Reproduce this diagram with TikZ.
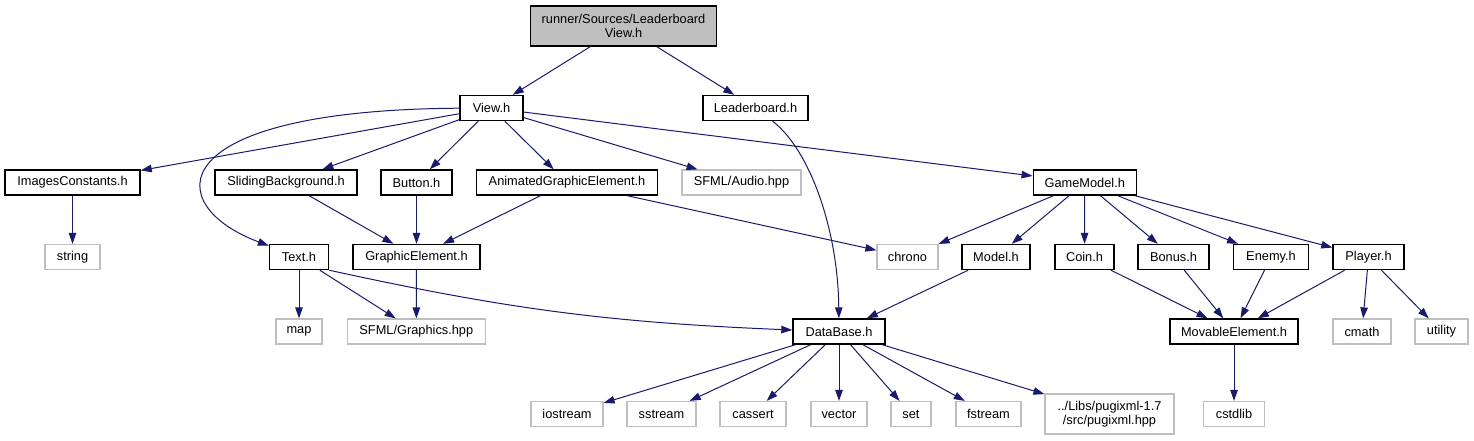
\documentclass[tikz,border=0pt]{standalone}
\usepackage{fontspec}
\setmainfont{Liberation Sans}
\usepackage{xcolor}
\usepackage{tikz}
\usetikzlibrary{arrows.meta}
\definecolor{depNavy}{RGB}{25,25,112}
\definecolor{sysGray}{RGB}{191,191,191}
\definecolor{rootGray}{RGB}{191,191,191}

\begin{document}
\begin{tikzpicture}[x=1pt,y=-1pt,
  incbox/.style={draw=black, line width=1.4pt, inner sep=0pt, minimum height=25pt,
    font=\fontsize{12.8}{13.5}\selectfont, align=center},
  sysbox/.style={incbox, draw=sysGray, line width=1.2pt},
  dep/.style={depNavy, line width=1pt, -{Triangle[length=11pt,width=7.5pt]}}]

\useasboundingbox (0,0) rectangle (1474,440);

\node[incbox, fill=rootGray, minimum width=186pt, minimum height=40pt] (root) at (623.5,26) {runner/Sources/Leaderboard\\View.h};

\node[incbox, minimum width=63pt] (view) at (491.5,108) {View.h};
\node[incbox, minimum width=105pt] (leaderboard) at (755.5,108) {Leaderboard.h};

\node[incbox, minimum width=135pt] (images) at (72.5,182.5) {ImagesConstants.h};
\node[incbox, minimum width=142pt] (sliding) at (286,182.5) {SlidingBackground.h};
\node[incbox, minimum width=71pt] (button) at (416.5,182.5) {Button.h};
\node[incbox, minimum width=181pt] (animated) at (567,182.5) {AnimatedGraphicElement.h};
\node[sysbox, minimum width=119pt] (audio) at (741.5,182.5) {SFML/Audio.hpp};
\node[incbox, minimum width=103pt] (gamemodel) at (1084.75,182.5) {GameModel.h};

\node[sysbox, minimum width=55pt] (string) at (72.5,257) {string};
\node[incbox, minimum width=59pt] (text) at (299,257) {Text.h};
\node[incbox, minimum width=127pt] (graphic) at (416.5,257) {GraphicElement.h};
\node[sysbox, minimum width=61pt] (chrono) at (907.5,257) {chrono};
\node[incbox, minimum width=68pt] (model) at (996,257) {Model.h};
\node[incbox, minimum width=59pt] (coin) at (1084.5,257) {Coin.h};
\node[incbox, minimum width=71pt] (bonus) at (1173.5,257) {Bonus.h};
\node[incbox, minimum width=75pt] (enemy) at (1271,257) {Enemy.h};
\node[incbox, minimum width=71pt] (player) at (1368.5,257) {Player.h};

\node[sysbox, minimum width=46pt] (map) at (299,331.5) {map};
\node[sysbox, minimum width=138pt] (graphics) at (416.3,331.5) {SFML/Graphics.hpp};
\node[incbox, minimum width=92pt] (database) at (839,331.5) {DataBase.h};
\node[incbox, minimum width=128pt] (movable) at (1234,331.5) {MovableElement.h};
\node[sysbox, minimum width=58pt] (cmath) at (1362,331.5) {cmath};
\node[sysbox, minimum width=53pt] (utility) at (1441.5,331.5) {utility};

\node[sysbox, minimum width=72pt] (iostream) at (567,414) {iostream};
\node[sysbox, minimum width=69pt] (sstream) at (661.5,414) {sstream};
\node[sysbox, minimum width=66pt] (cassert) at (753,414) {cassert};
\node[sysbox, minimum width=56pt] (vector) at (839,414) {vector};
\node[sysbox, minimum width=40pt] (set) at (911,414) {set};
\node[sysbox, minimum width=65pt] (fstream) at (988.5,414) {fstream};
\node[sysbox, minimum width=129pt, minimum height=40pt] (pugixml) at (1109.5,414) {../Libs/pugixml-1.7\\/src/pugixml.hpp};
\node[sysbox, minimum width=61pt] (cstdlib) at (1234,414) {cstdlib};

\foreach \a/\b in {root/view,root/leaderboard,view/images,view/sliding,view/button,view/animated,view/audio,view/gamemodel,
  images/string,sliding/graphic,button/graphic,animated/graphic,animated/chrono,text/map,text/graphics,graphic/graphics,
  gamemodel/chrono,gamemodel/model,gamemodel/coin,gamemodel/bonus,gamemodel/enemy,gamemodel/player,model/database,
  coin/movable,bonus/movable,enemy/movable,player/movable,player/cmath,player/utility,movable/cstdlib}
{
    \draw[dep] (\a) -- (\b);
}
\foreach \b in {iostream,sstream,cassert,vector,set,fstream,pugixml}
{
    \draw[dep] (database) -- (\b);
}
\draw[dep] (view) .. controls (160,110) and (160,205) .. (text);
\draw[dep] (leaderboard) .. controls (810,150) and (838,230) .. (database);
\draw[dep] (text.south east) to[bend right=5] (database);
\end{tikzpicture}
\end{document}
